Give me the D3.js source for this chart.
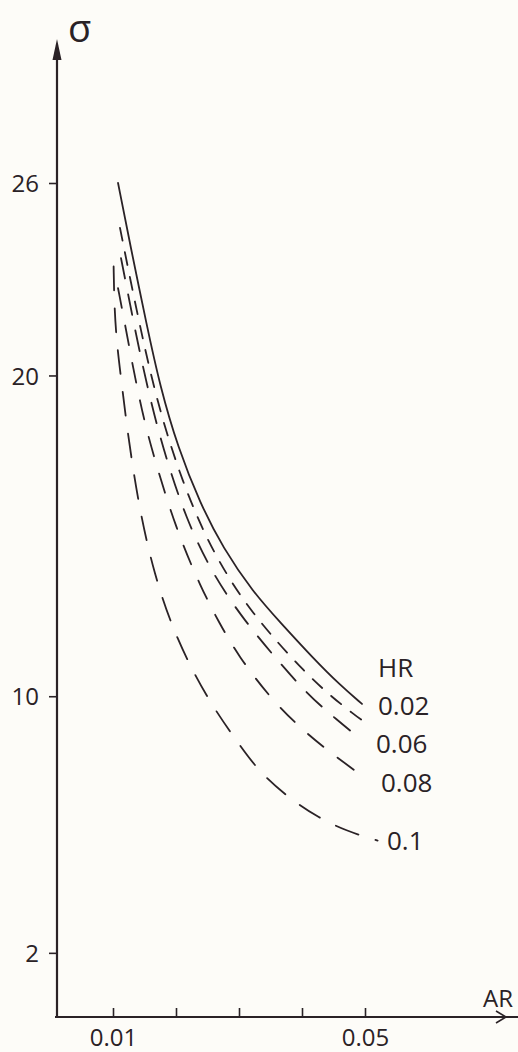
<!DOCTYPE html>
<html><head><meta charset="utf-8">
<script src="https://cdnjs.cloudflare.com/ajax/libs/d3/7.8.5/d3.min.js"></script>
<style>
html,body{margin:0;padding:0;background:#fdfcf8;}
svg{display:block;}
text{font-family:"Open Sans",sans-serif;fill:#2a2226;}
</style></head>
<body>
<script>
// ---- data ----
const xTicks = [0.01, 0.02, 0.03, 0.04, 0.05];
const xTickLabels = ["0.01", "", "", "", "0.05"];
const yTicks = [2, 10, 20, 26];
const hrLabels = ["0.02", "0.06", "0.08", "0.1"];

const arSolid  = [0.0108,0.0127,0.0154,0.01746,0.02032,0.02381,0.02746,0.03222,0.03651,0.04175,0.04603,0.04952];
const sigSolid = [26.0,24.1,21.53,19.67,17.74,16.02,14.62,13.25,12.31,11.19,10.35,9.76];

const arA  = [0.01111,0.01286,0.01429,0.01587,0.01778,0.02095,0.02492,0.02873,0.03222,0.03619,0.04016,0.04413,0.04841,0.04968];
const sigA = [24.60,22.88,21.54,20.14,18.67,16.71,14.87,13.56,12.59,11.66,10.82,10.07,9.41,9.23];

const arB  = [0.01127,0.0127,0.01413,0.01587,0.01778,0.02159,0.02619,0.03095,0.03556,0.04079,0.04556,0.04952];
const sigB = [23.66,22.23,20.82,19.30,17.83,15.49,13.68,12.34,11.25,10.07,9.26,8.63];

const arC  = [0.0108,0.0119,0.0132,0.0146,0.0162,0.0200,0.0240,0.0268,0.0298,0.0352,0.0406,0.0457,0.0500];
const sigC = [22.72,21.60,20.23,18.89,17.64,15.2,13.37,12.31,11.28,9.88,8.85,8.07,7.45];

const arD  = [0.0101,0.0102,0.0106,0.0114,0.0122,0.0140,0.0165,0.0200,0.0250,0.0300,0.0335,0.0386,0.0425,0.0470,0.0520];
const sigD = [23.4,22.2,20.98,19.73,18.39,16.0,13.8,11.8,9.9,8.5,7.57,6.73,6.23,5.8,5.5];

// ---- chart ----
const W = 518, H = 1052;
const ink = "#2a2226";
const svg = d3.select("body").append("svg").attr("width", W).attr("height", H);

const x = d3.scaleLinear().domain([0.01, 0.05]).range([113, 365]);
const y = d3.scaleLinear().domain([0, 26]).range([1017, 183]);

// y axis
const gy = svg.append("g").attr("transform", "translate(57,0)")
  .call(d3.axisLeft(y).tickValues(yTicks).tickSize(8).tickPadding(10).tickFormat(d3.format("d")));
gy.select(".domain").remove();
gy.selectAll(".tick line").attr("stroke", ink).attr("stroke-width", 1.6);
gy.selectAll(".tick text").style("font-size", "24px").attr("dy", "0.36em");
svg.append("line").attr("x1", 57).attr("x2", 57).attr("y1", 1018).attr("y2", 52)
  .attr("stroke", ink).attr("stroke-width", 2.2);
svg.append("path").attr("d", "M57,39 L52.5,60 L61.5,60 Z").attr("fill", ink);

// x axis
const gx = svg.append("g").attr("transform", "translate(0,1017)")
  .call(d3.axisBottom(x).tickValues(xTicks).tickSizeInner(-9).tickSizeOuter(0).tickPadding(12)
    .tickFormat((d, i) => xTickLabels[i]));
gx.select(".domain").remove();
gx.selectAll(".tick line").attr("stroke", ink).attr("stroke-width", 1.6);
gx.selectAll(".tick text").style("font-size", "24px");
svg.append("line").attr("x1", 55).attr("x2", 518).attr("y1", 1017).attr("y2", 1017)
  .attr("stroke", ink).attr("stroke-width", 2.2);
svg.append("path").attr("d", "M496,1011 L506,1017 L496,1023").attr("fill", "none")
  .attr("stroke", ink).attr("stroke-width", 1.6);

// axis titles
svg.append("text").attr("x", 68).attr("y", 42).style("font-size", "38px").text("σ");
svg.append("text").attr("x", 483).attr("y", 1007).style("font-size", "24px").text("AR");

// curves
const line = d3.line().x(d => x(d[0])).y(d => y(d[1])).curve(d3.curveBasis);
const series = [
  {ar: arSolid, sig: sigSolid, dash: null},
  {ar: arA, sig: sigA, dash: "13,12"},
  {ar: arB, sig: sigB, dash: "21,16"},
  {ar: arC, sig: sigC, dash: "20,18"},
  {ar: arD, sig: sigD, dash: "24,18"}
];
series.forEach(s => {
  svg.append("path").datum(d3.zip(s.ar, s.sig)).attr("d", line)
    .attr("fill", "none").attr("stroke", ink).attr("stroke-width", 1.8)
    .attr("stroke-linecap", "round")
    .attr("stroke-dasharray", s.dash);
});

// legend
svg.append("text").attr("x", 378).attr("y", 677).style("font-size", "26px").text("HR");
const legY = [715, 753, 792, 850];
const legX = [378, 376, 381, 387];
hrLabels.forEach((t, i) => {
  svg.append("text").attr("x", legX[i]).attr("y", legY[i]).style("font-size", "26px").text(t);
});
</script>
</body></html>
